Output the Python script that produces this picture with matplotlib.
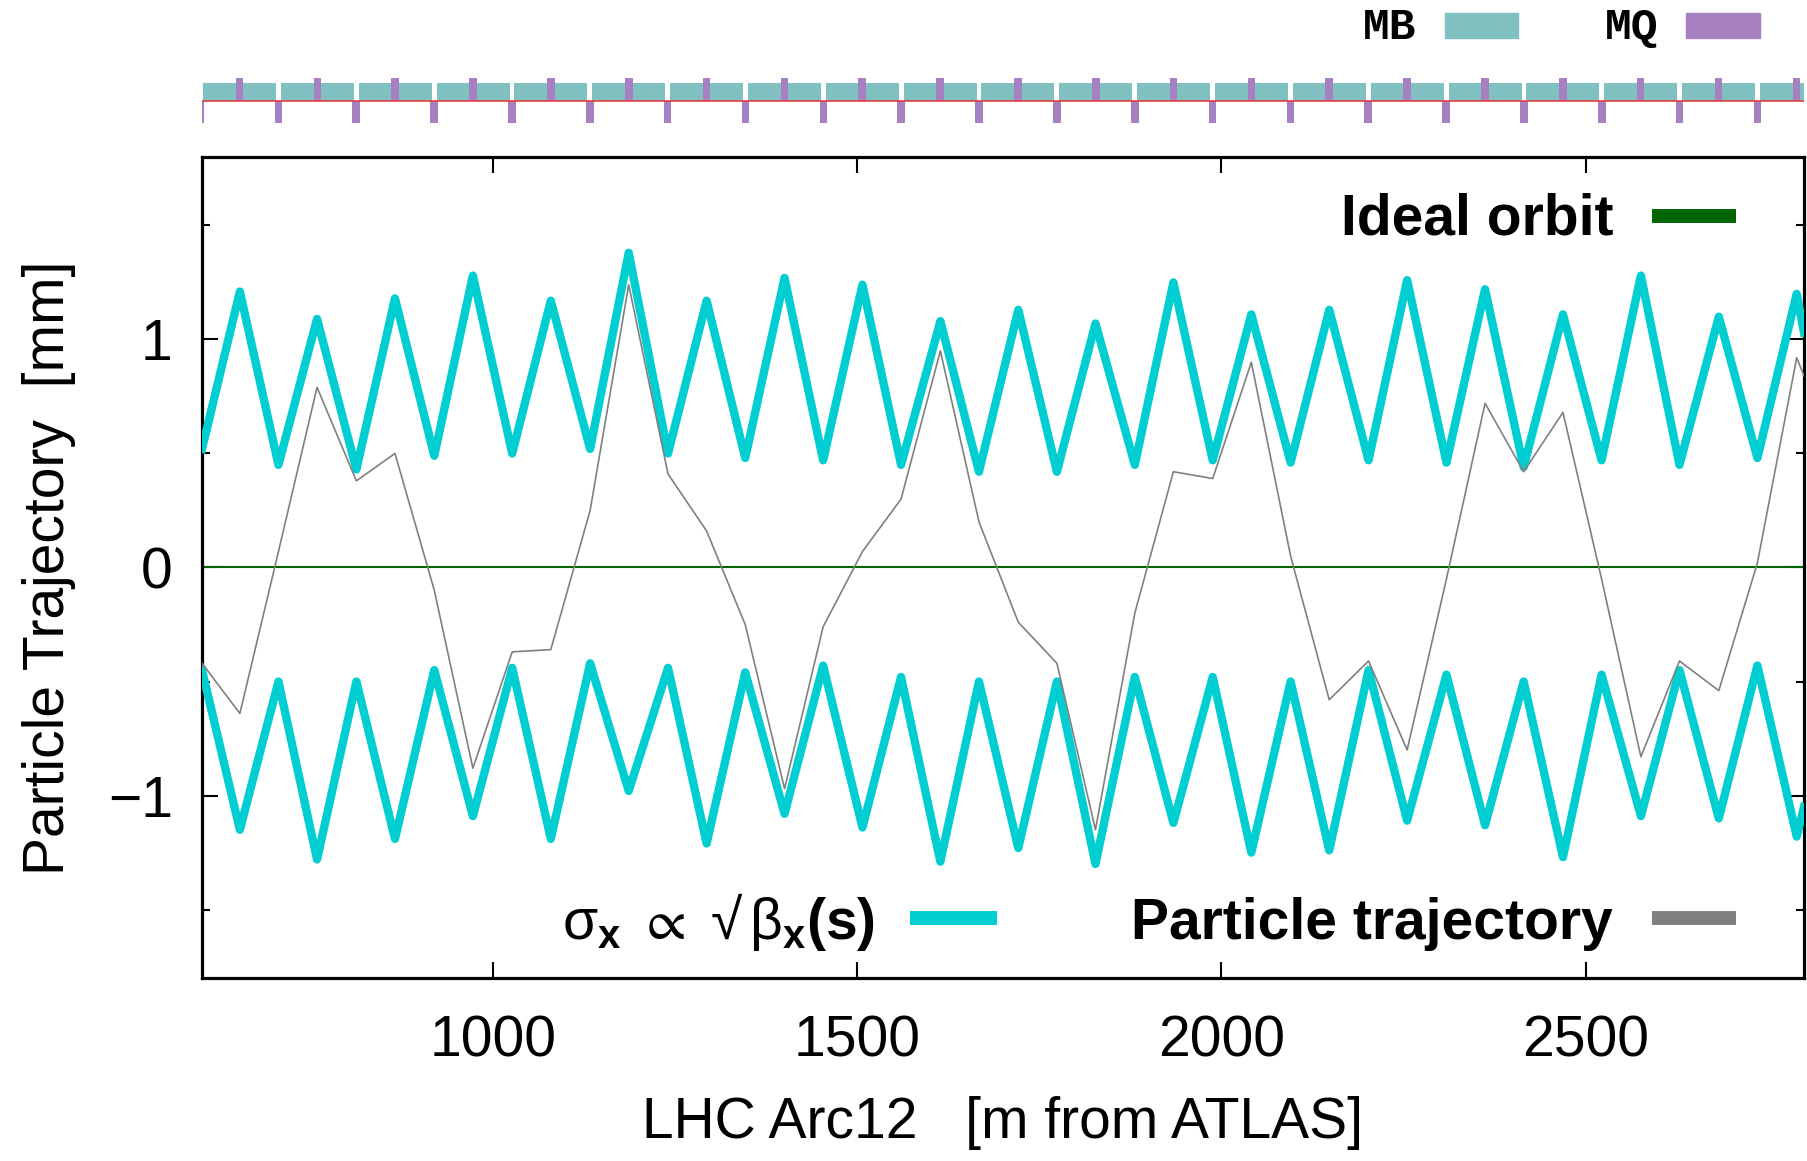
import matplotlib.pyplot as plt
from matplotlib.lines import Line2D
from matplotlib.patches import Rectangle
from matplotlib.ticker import MultipleLocator

plt.rcParams['font.family'] = ['Liberation Sans', 'DejaVu Sans']
plt.rcParams['mathtext.fontset'] = 'custom'
plt.rcParams['mathtext.rm'] = 'Liberation Sans'
plt.rcParams['mathtext.it'] = 'Liberation Sans'   # upright greek, like the original
plt.rcParams['mathtext.bf'] = 'Liberation Sans:bold'
plt.rcParams['mathtext.fallback'] = 'stixsans'

# s [m from ATLAS] of the plotted points (window edges + quadrupole centres)
s_pts = [600, 652, 705, 758, 812, 865, 919, 972, 1026, 1079, 1133, 1186, 1240,
         1293, 1346, 1400, 1453, 1507, 1560, 1614, 1667, 1721, 1774, 1827, 1881,
         1934, 1988, 2041, 2095, 2148, 2202, 2255, 2309, 2362, 2415, 2469, 2522,
         2576, 2629, 2683, 2736, 2790, 2800]

# beam envelope, upper and lower branch [mm]
sigma_up = [0.52, 1.21, 0.45, 1.09, 0.43, 1.18, 0.49, 1.28, 0.50, 1.17, 0.52,
            1.38, 0.50, 1.17, 0.48, 1.27, 0.47, 1.24, 0.45, 1.08, 0.42, 1.13,
            0.42, 1.07, 0.45, 1.25, 0.47, 1.11, 0.46, 1.13, 0.47, 1.26, 0.46,
            1.22, 0.44, 1.11, 0.47, 1.28, 0.45, 1.10, 0.48, 1.20, 1.03]
sigma_dn = [-0.45, -1.15, -0.50, -1.28, -0.50, -1.19, -0.45, -1.09, -0.44, -1.19,
            -0.42, -0.98, -0.44, -1.21, -0.46, -1.08, -0.43, -1.14, -0.48, -1.29,
            -0.50, -1.23, -0.50, -1.30, -0.48, -1.12, -0.48, -1.25, -0.50, -1.24,
            -0.45, -1.11, -0.47, -1.13, -0.50, -1.27, -0.47, -1.09, -0.45, -1.10,
            -0.43, -1.18, -1.05]

# particle trajectory [mm]
traj = [-0.42, -0.64, 0.07, 0.79, 0.38, 0.50, -0.10, -0.88, -0.37, -0.36, 0.25,
        1.24, 0.41, 0.16, -0.25, -0.97, -0.26, 0.07, 0.30, 0.95, 0.20, -0.24,
        -0.42, -1.15, -0.20, 0.42, 0.39, 0.90, 0.05, -0.58, -0.41, -0.80, -0.05,
        0.72, 0.42, 0.68, -0.05, -0.83, -0.41, -0.54, 0.02, 0.92, 0.84]

# lattice: focusing / defocusing quadrupoles (MQ) centres [m]
mq_focus = [651.5, 758.4, 865.3, 972.2, 1079.1, 1186.0, 1292.9, 1399.8, 1506.7,
            1613.6, 1720.5, 1827.4, 1934.3, 2041.2, 2148.1, 2255.0, 2361.9,
            2468.8, 2575.7, 2682.6, 2789.5]
mq_defocus = [598.1, 705.0, 811.9, 918.8, 1025.7, 1132.6, 1239.5, 1346.4, 1453.3,
              1560.2, 1667.1, 1774.0, 1880.9, 1987.8, 2094.7, 2201.6, 2308.5,
              2415.4, 2522.3, 2629.2, 2736.1, 2843.0]

CYAN = '#00ced1'
MB_COL = '#80c0c0'
MQ_COL = '#a680c0'
W, H = 1807, 1161

fig = plt.figure(figsize=(W / 100, H / 100), dpi=100)
ax = fig.add_axes([202 / W, 1 - 978 / H, 1602 / W, 821 / H])

ax.plot(s_pts, sigma_up, color=CYAN, lw=6, solid_joinstyle='round', zorder=3)
ax.plot(s_pts, sigma_dn, color=CYAN, lw=6, solid_joinstyle='round', zorder=3)
ax.axhline(0, color='#006400', lw=1.5, zorder=2)
ax.plot(s_pts, traj, color='#808080', lw=1.2, zorder=4)

ax.set_xlim(600, 2800)
ax.set_ylim(-1.8, 1.8)
ax.xaxis.set_major_locator(MultipleLocator(500))
ax.yaxis.set_major_locator(MultipleLocator(1))
ax.yaxis.set_minor_locator(MultipleLocator(0.5))
ax.tick_params(which='both', direction='in', top=True, right=True, width=1.5,
               labelsize=41)
ax.tick_params(which='major', length=11.5)
ax.tick_params(which='minor', length=5.8)
ax.tick_params(axis='x', pad=26)
ax.tick_params(axis='y', pad=21)
for sp in ax.spines.values():
    sp.set_linewidth(2.3)

ax.set_xlabel('LHC Arc12   [m from ATLAS]', fontsize=41, va='center')
ax.xaxis.set_label_coords(0.5, -0.1766)
ax.set_ylabel('Particle Trajectory  [mm]', fontsize=41, va='center')
ax.yaxis.set_label_coords(-0.0955, 0.5)

# key entries (text left of the sample, gnuplot style)
ax.text(0.8808, 0.905, 'Ideal orbit', transform=ax.transAxes, ha='right',
        va='baseline', fontsize=41, fontweight='bold')
ax.add_line(Line2D([0.9051, 0.9576], [0.9281, 0.9281], transform=ax.transAxes,
                   color='#006400', lw=10, solid_capstyle='butt'))
ax.text(0.8808, 0.048, 'Particle trajectory', transform=ax.transAxes,
        ha='right', va='baseline', fontsize=41, fontweight='bold')
ax.add_line(Line2D([0.9051, 0.9576], [0.0731, 0.0731], transform=ax.transAxes,
                   color='#808080', lw=10, solid_capstyle='butt'))
ax.text(0.4201, 0.048,
        r'$\sigma_{\mathbf{x}}\ \propto\ √\,\beta_{\mathbf{x}}\mathbf{(s)}$',
        transform=ax.transAxes, ha='right', va='baseline', fontsize=41)
ax.add_line(Line2D([0.4419, 0.4963], [0.0731, 0.0731], transform=ax.transAxes,
                   color=CYAN, lw=10, solid_capstyle='butt'))

# magnet lattice strip above the plot
lat = fig.add_axes([202 / W, 1 - 127 / H, 1602 / W, 52 / H])
lat.set_xlim(600, 2800)
lat.set_ylim(-1, 1)
lat.axis('off')

quads = sorted(mq_focus + mq_defocus)
gap = 3.3
mb_left = [a + gap for a in quads[:-1]]
mb_width = [b - a - 2 * gap for a, b in zip(quads[:-1], quads[1:])]
lat.bar(mb_left, 0.69, width=mb_width, align='edge', color=MB_COL, zorder=1)
lat.bar(mq_focus, 0.88, width=10.5, color=MQ_COL, zorder=2)
lat.bar(mq_defocus, -0.85, width=10.5, color=MQ_COL, zorder=2)
lat.axhline(0, color='#e04040', lw=1.2, zorder=3)

# MB / MQ key
fig.text(1416 / W, 1 - 39 / H, 'MB', ha='right', va='baseline',
         family='Liberation Mono', fontweight='bold', fontsize=32)
fig.patches.append(Rectangle((1445 / W, 1 - 37.7 / H), 73 / W, 24.4 / H,
                             transform=fig.transFigure, color=MB_COL))
fig.text(1658 / W, 1 - 39 / H, 'MQ', ha='right', va='baseline',
         family='Liberation Mono', fontweight='bold', fontsize=32)
fig.patches.append(Rectangle((1686 / W, 1 - 37.7 / H), 74 / W, 24.4 / H,
                             transform=fig.transFigure, color=MQ_COL))

fig.savefig('out.png', dpi=100)
